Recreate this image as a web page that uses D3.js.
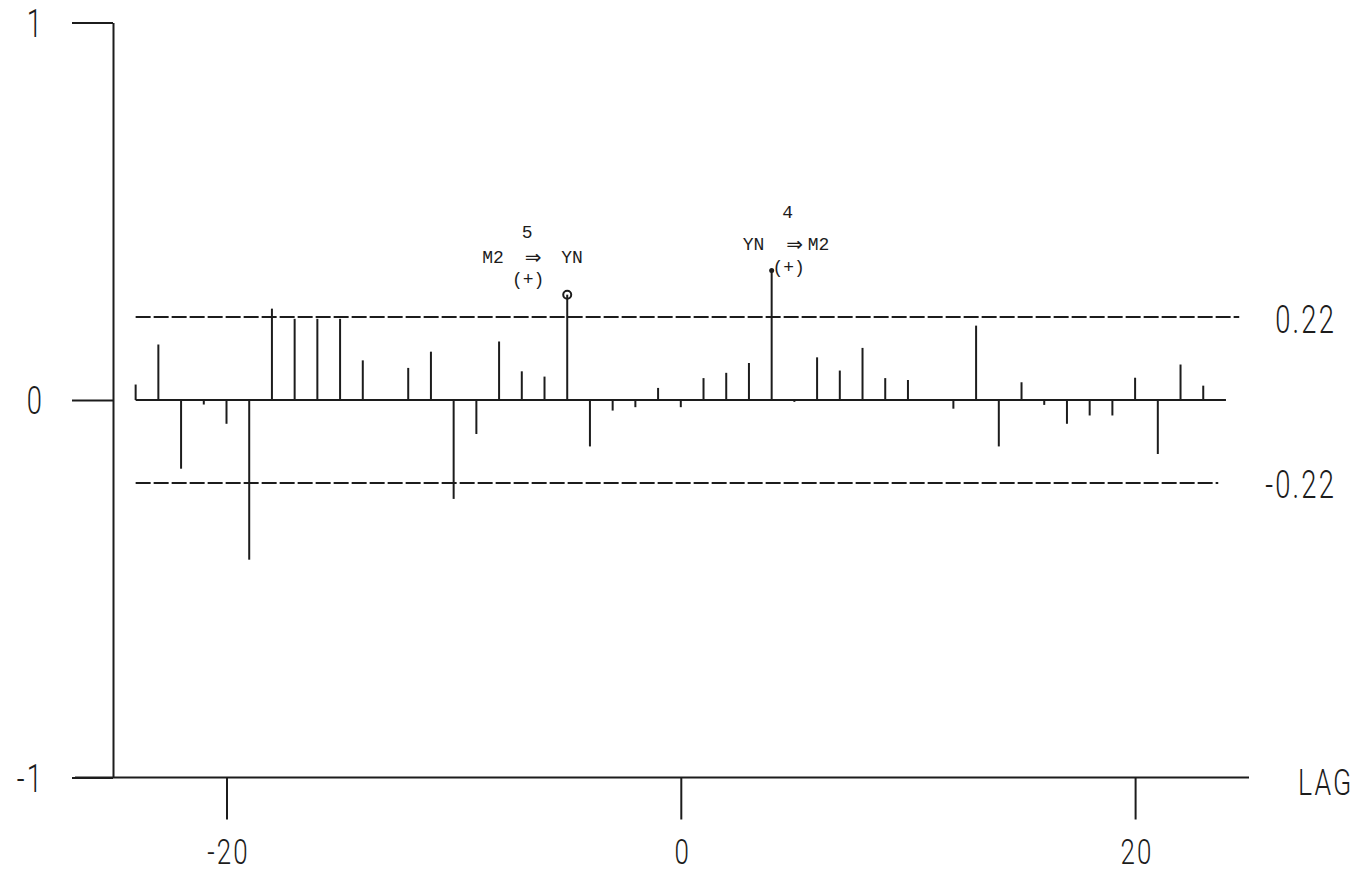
<!DOCTYPE html>
<html><head><meta charset="utf-8">
<script src="https://cdn.jsdelivr.net/npm/d3@7"></script>
<style>
html,body{margin:0;padding:0;background:#fff;}
svg{display:block;}
</style></head><body>
<svg id="chart" width="1370" height="873"></svg>
<script>
// ---- data ----
const lags = [-24,-23,-22,-21,-20,-19,-18,-17,-16,-15,-14,-13,-12,-11,-10,-9,-8,-7,-6,-5,-4,-3,-2,-1,
              0,1,2,3,4,5,6,7,8,9,10,11,12,13,14,15,16,17,18,19,20,21,22,23];
const ccf = [0.041,0.147,-0.182,-0.012,-0.063,-0.423,0.242,0.215,0.215,0.215,0.105,0.0,0.085,0.128,-0.262,-0.090,0.155,0.076,0.062,0.279,-0.123,-0.028,-0.019,0.032,
             -0.019,0.058,0.072,0.098,0.343,-0.005,0.113,0.078,0.138,0.058,0.053,0.0,-0.023,0.197,-0.123,0.047,-0.013,-0.063,-0.041,-0.041,0.059,-0.143,0.094,0.038];
const yTickValues = [-1, 0, 1];
const yTickLabels = ["-1", "0", "1"];
const xTickValues = [-20, 0, 20];
const xTickLabels = ["-20", "0", "20"];
const confBound = 0.22;
const confLabels = ["0.22", "-0.22"];
const xAxisTitle = "LAG";
const annotationLags = [-5, 4];
const annotationOrders = ["5", "4"];
const annotationCause = ["M2", "YN"];
const annotationEffect = ["YN", "M2"];
const annotationSigns = ["(+)", "(+)"];

// ---- drawing ----
const svg = d3.select("#chart");
const ink = "#1c1c1c";
const plotFont = "Roboto, Lato, 'DejaVu Sans', sans-serif";
const monoFont = "'Liberation Mono', 'DejaVu Sans Mono', monospace";

const x = d3.scaleLinear().domain([-20, 20]).range([226.5, 1135.1]);
const y = d3.scaleLinear().domain([-1, 1]).range([777.5, 22.5]);
const axisX = 113;

function plotText(txt, px, py, anchor, size) {
  const g = svg.append("g").attr("transform", `translate(${px},${py}) scale(0.72,1)`);
  g.append("text").text(txt)
    .attr("text-anchor", anchor)
    .attr("font-family", plotFont)
    .attr("font-weight", 300)
    .attr("font-size", size)
    .attr("letter-spacing", 3)
    .attr("fill", ink);
  return g;
}

// y axis
const gy = svg.append("g").attr("transform", `translate(${axisX},0)`)
  .call(d3.axisLeft(y).tickValues(yTickValues).tickSize(41).tickSizeOuter(0).tickFormat(""));
gy.select(".domain").attr("stroke", ink).attr("stroke-width", 2);
gy.selectAll(".tick line").attr("stroke", ink).attr("stroke-width", 2);
yTickValues.forEach((v, i) => plotText(yTickLabels[i], 44, y(v) + 14, "end", 38));

// x axis line (extends beyond the data range)
svg.append("line").attr("x1", 75).attr("x2", 1249)
  .attr("y1", y(-1)).attr("y2", y(-1))
  .attr("stroke", ink).attr("stroke-width", 2);
const gx = svg.append("g").attr("transform", `translate(0,${y(-1)})`)
  .call(d3.axisBottom(x).tickValues(xTickValues).tickSize(42).tickSizeOuter(0).tickFormat(""));
gx.select(".domain").remove();
gx.selectAll(".tick line").attr("stroke", ink).attr("stroke-width", 2);
xTickValues.forEach((v, i) => plotText(xTickLabels[i], x(v) + 2, 864, "middle", 36));
plotText(xAxisTitle, 1298, 795, "start", 37);

// confidence bounds
const x0 = x(lags[0]), xLast = x(lags[lags.length - 1]);
[[confBound, xLast + 36], [-confBound, xLast + 15]].forEach(([b, xe]) => {
  svg.append("line").attr("x1", x0).attr("x2", xe)
    .attr("y1", y(b)).attr("y2", y(b))
    .attr("stroke", ink).attr("stroke-width", 2)
    .attr("stroke-dasharray", "15,3");
});
plotText(confLabels[0], 1336, y(confBound) + 16, "end", 38);
plotText(confLabels[1], 1336, y(-confBound) + 15, "end", 38);

// zero line
svg.append("line").attr("x1", x0).attr("x2", x(lags[lags.length - 1] + 1))
  .attr("y1", y(0)).attr("y2", y(0))
  .attr("stroke", ink).attr("stroke-width", 2);

// stems
svg.append("g").selectAll("line").data(lags).join("line")
  .attr("x1", d => x(d)).attr("x2", d => x(d))
  .attr("y1", y(0)).attr("y2", (d, i) => y(ccf[i]))
  .attr("stroke", ink).attr("stroke-width", 2);

// annotations
function mono(txt, px, py, anchor) {
  svg.append("text").text(txt).attr("x", px).attr("y", py)
    .attr("text-anchor", anchor)
    .attr("font-family", monoFont).attr("font-size", 18)
    .attr("fill", ink);
}
function arrow(px, py) {
  svg.append("text").text("⇒").attr("x", px).attr("y", py)
    .attr("text-anchor", "middle")
    .attr("font-family", "'DejaVu Sans', sans-serif").attr("font-size", 20)
    .attr("fill", ink);
}
annotationLags.forEach((lag, i) => {
  const cx = x(lag), cy = y(ccf[lags.indexOf(lag)]);
  if (i === 0) {
    svg.append("circle").attr("cx", cx).attr("cy", cy).attr("r", 4)
      .attr("fill", "none").attr("stroke", ink).attr("stroke-width", 2);
    mono(annotationOrders[i], cx - 40, cy - 57, "middle");
    mono(annotationCause[i], cx - 85, cy - 32, "start");
    arrow(cx - 34, cy - 31);
    mono(annotationEffect[i], cx - 6, cy - 32, "start");
    mono(annotationSigns[i], cx - 39, cy - 10, "middle");
  } else {
    svg.append("circle").attr("cx", cx).attr("cy", cy).attr("r", 2.5)
      .attr("fill", ink);
    mono(annotationOrders[i], cx + 16, cy - 53, "middle");
    mono(annotationCause[i], cx - 29, cy - 21, "start");
    arrow(cx + 23, cy - 20);
    mono(annotationEffect[i], cx + 36, cy - 21, "start");
    mono(annotationSigns[i], cx + 17, cy + 2, "middle");
  }
});
</script>
</body></html>
